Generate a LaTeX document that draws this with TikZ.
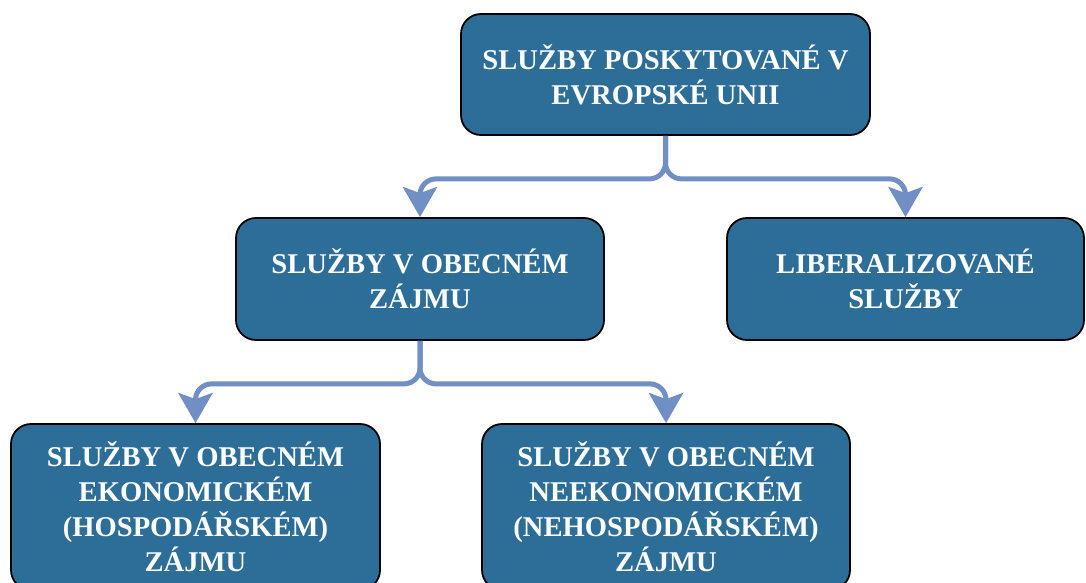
\documentclass[tikz,border=0pt]{standalone}
\usepackage{fontspec}
\setmainfont{Liberation Serif}
\usetikzlibrary{positioning, arrows.meta}
\definecolor{BoxBlue}{HTML}{2D6E99}
\definecolor{LinkBlue}{HTML}{6F8FC5}
\tikzstyle{Box} = [
	draw=black, line width=1.8pt,
	fill=BoxBlue, rounded corners=20pt,
	text=white, align=center, inner sep=0pt,
	font=\bfseries\fontsize{28.6}{35}\selectfont
	]
\tikzstyle{Link} = [
	draw=LinkBlue, line width=5pt,
	rounded corners=16pt,
	-{Stealth[length=30pt, width=34pt, inset=6pt]}
	]
\begin{document}
\begin{tikzpicture}[x=1pt, y=-1pt]
	\clip (0,0) rectangle (1086,583);
	\useasboundingbox (0,0) rectangle (1086,583);
	%nodes:
		\node [Box, minimum width=409pt, minimum height=121pt] (eu) at (665.5,74.5) {SLUŽBY POSKYTOVANÉ V\\EVROPSKÉ UNII};
		\node [Box, minimum width=368pt, minimum height=122pt] (obecny) at (420,279) {SLUŽBY V OBECNÉM\\ZÁJMU};
		\node [Box, minimum width=357pt, minimum height=122pt] (liberal) at (905.5,279) {LIBERALIZOVANÉ\\SLUŽBY};
		\node [Box, minimum width=369pt, minimum height=166pt] (ekon) at (195.5,507) {SLUŽBY V OBECNÉM\\EKONOMICKÉM\\(HOSPODÁŘSKÉM)\\ZÁJMU};
		\node [Box, minimum width=368pt, minimum height=166pt] (neekon) at (666,507) {SLUŽBY V OBECNÉM\\NEEKONOMICKÉM\\(NEHOSPODÁŘSKÉM)\\ZÁJMU};
	%edges:
		\draw[Link] (eu.south) -- ++(0,43) -| (obecny.north);
		\draw[Link] (eu.south) -- ++(0,43) -| (liberal.north);
		\draw[Link] (obecny.south) -- ++(0,43) -| (ekon.north);
		\draw[Link] (obecny.south) -- ++(0,43) -| (neekon.north);
\end{tikzpicture}
\end{document}
